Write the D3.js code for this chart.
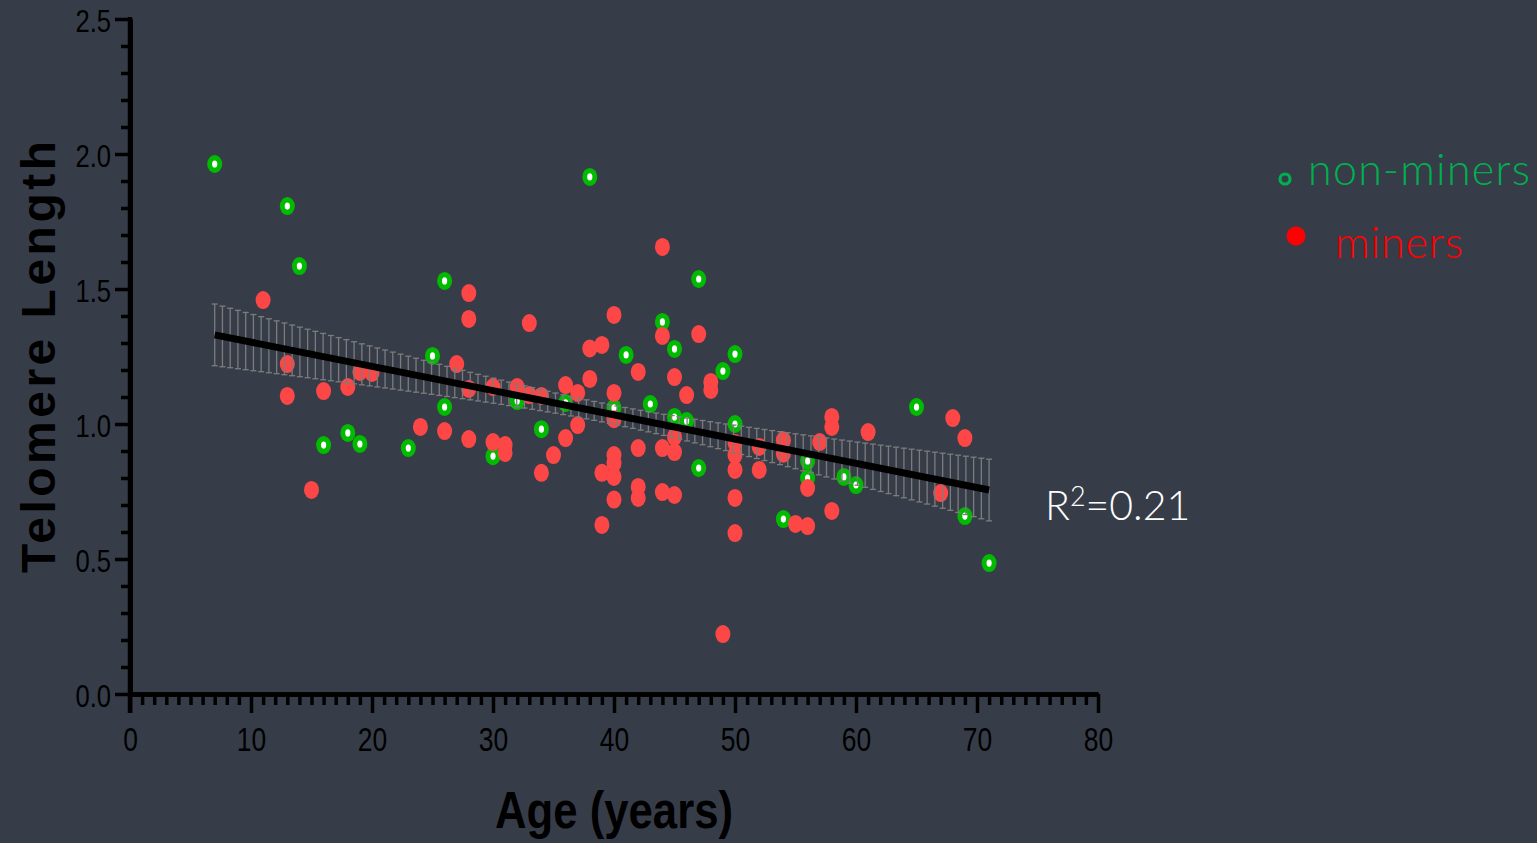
<!DOCTYPE html>
<html>
<head>
<meta charset="utf-8">
<script src="https://cdn.jsdelivr.net/npm/d3@7"></script>
<style>
  html, body { margin: 0; padding: 0; background: #373d48; }
  svg { display: block; }
  .narrow { font-family: "Liberation Sans Narrow", "Arial Narrow", "Liberation Sans", sans-serif; }
</style>
</head>
<body>
<div id="chart"></div>
<script>
/* values */
var nonMinerAge = [7, 13, 14, 16, 18, 19, 23, 25, 26, 26, 30, 32, 34, 36, 38, 40, 41, 43, 44, 45,
  45, 46, 47, 47, 49, 50, 50, 54, 56, 56, 59, 60, 65, 69, 71];
var nonMinerTL = [1.963, 1.807, 1.585, 0.922, 0.967, 0.926, 0.911, 1.252, 1.53, 1.063, 0.881, 1.085,
  0.981, 1.078, 1.915, 1.06, 1.256, 1.074, 1.378, 1.026, 1.278, 1.011, 1.537, 0.837, 1.196, 1.259,
  1.0, 0.648, 0.863, 0.8, 0.804, 0.774, 1.063, 0.659, 0.485];

var minerAge = [11, 13, 13, 15, 16, 18, 19, 20, 24, 26, 27, 28, 28, 28, 28, 30, 30, 31, 31, 32,
  33, 33, 34, 34, 35, 36, 36, 37, 37, 38, 38, 39, 39, 39, 40, 40, 40, 40, 40, 40,
  40, 42, 42, 42, 42, 44, 44, 44, 44, 45, 45, 45, 45, 46, 47, 48, 48, 49, 50, 50,
  50, 50, 50, 52, 52, 54, 54, 55, 56, 56, 57, 58, 58, 58, 61, 67, 68, 69];
var minerTL = [1.459, 1.222, 1.104, 0.756, 1.122, 1.137, 1.193, 1.189, 0.989, 0.974, 1.222, 1.485,
  1.389, 1.13, 0.944, 1.137, 0.933, 0.922, 0.893, 1.137, 1.374, 1.107, 1.104, 0.819, 0.885, 1.144,
  0.948, 1.115, 0.996, 1.28, 1.167, 1.293, 0.819, 0.626, 1.404, 1.115, 1.018, 0.885, 0.855, 0.804,
  0.72, 1.193, 0.911, 0.767, 0.726, 1.656, 1.326, 0.911, 0.748, 1.174, 0.952, 0.896, 0.737, 1.107,
  1.333, 1.156, 1.126, 0.222, 0.93, 0.885, 0.83, 0.726, 0.596, 0.915, 0.83, 0.94, 0.89, 0.63,
  0.763, 0.622, 0.933, 1.026, 0.989, 0.678, 0.97, 0.744, 1.022, 0.948];

/* linear fit and its 95% band */
var fitIntercept = 1.393;
var fitSlope = -0.00898;
var fitRange = [7, 71];
var bandCentre = 39;      // age where the band is narrowest
var bandMin = 0.035;      // half width there
var bandGrow = 0.0034;    // widening per year away from centre
var bandStep = 0.64;      // spacing of the drawn band bars
var r2Label = "0.21";

var xMajor = [0, 10, 20, 30, 40, 50, 60, 70, 80];
var yMajor = [0.0, 0.5, 1.0, 1.5, 2.0, 2.5];

var width = 1537, height = 843;

var svg = d3.select("#chart").append("svg")
  .attr("width", width).attr("height", height);

var x = d3.scaleLinear().domain([0, 80]).range([130, 1098]);
var y = d3.scaleLinear().domain([0, 2.5]).range([694, 19]);

/* squeeze text horizontally to mimic a narrow face */
function squeeze(sel, k) {
  sel.each(function () {
    var w = this.getComputedTextLength();
    d3.select(this).attr("lengthAdjust", "spacingAndGlyphs").attr("textLength", w * k);
  });
}

/* axes: minor and major ticks in their own groups */
var xMinor = d3.range(0, 81, 1).filter(v => xMajor.indexOf(v) < 0);
var yMinor = d3.range(0, 26, 1).map(v => v / 10).filter(v => Math.round(v * 10) % 5 !== 0);

var gxMinor = svg.append("g").attr("transform", "translate(0," + y(0) + ")")
  .call(d3.axisBottom(x).tickValues(xMinor).tickSize(11).tickSizeOuter(0).tickFormat(""));
var gxMajor = svg.append("g").attr("transform", "translate(0," + y(0) + ")")
  .call(d3.axisBottom(x).tickValues(xMajor).tickSize(19).tickSizeOuter(0).tickFormat(d3.format("d")).tickPadding(15));
var gyMinor = svg.append("g").attr("transform", "translate(" + x(0) + ",0)")
  .call(d3.axisLeft(y).tickValues(yMinor).tickSize(9).tickSizeOuter(0).tickFormat(""));
var gyMajor = svg.append("g").attr("transform", "translate(" + x(0) + ",0)")
  .call(d3.axisLeft(y).tickValues(yMajor).tickSize(15).tickSizeOuter(0).tickFormat(d3.format(".1f")).tickPadding(4));

[gxMinor, gxMajor, gyMinor, gyMajor].forEach(function (g) {
  g.selectAll("line").attr("stroke", "#000").attr("stroke-width", 3.5);
  g.selectAll("path.domain").attr("stroke", "#000").attr("stroke-width", 4.5);
});

gxMajor.selectAll("text").attr("class", "narrow").attr("fill", "#000")
  .style("font-size", "33px");
gyMajor.selectAll("text").attr("class", "narrow").attr("fill", "#000")
  .style("font-size", "32px").attr("dy", "0.38em");
squeeze(gxMajor.selectAll("text"), 0.8);
squeeze(gyMajor.selectAll("text"), 0.8);

/* y axis runs down to the x tick length, like the original */
svg.append("line")
  .attr("x1", x(0)).attr("x2", x(0))
  .attr("y1", y(2.5) - 2).attr("y2", y(0) + 19)
  .attr("stroke", "#000").attr("stroke-width", 4.5);

/* axis titles */
svg.append("text")
  .attr("transform", "translate(55," + 357 + ") rotate(-90)")
  .attr("text-anchor", "middle")
  .attr("textLength", 432)
  .style("font-family", "'Liberation Sans', Arial, sans-serif")
  .style("font-weight", "bold")
  .style("font-size", "48px")
  .attr("fill", "#000")
  .text("Telomere Length");

svg.append("text")
  .attr("x", 614).attr("y", 828)
  .attr("text-anchor", "middle")
  .attr("textLength", 238)
  .attr("lengthAdjust", "spacingAndGlyphs")
  .style("font-family", "'Liberation Sans', Arial, sans-serif")
  .style("font-weight", "bold")
  .style("font-size", "52px")
  .attr("fill", "#000")
  .text("Age (years)");

/* points */
var nonMiners = nonMinerAge.map((a, i) => ({ age: a, tl: nonMinerTL[i] }));
var miners = minerAge.map((a, i) => ({ age: a, tl: minerTL[i] }));

var pts = svg.append("g");
var gGreen = pts.selectAll("g.nm").data(nonMiners).enter().append("g").attr("class", "nm");
gGreen.append("ellipse")
  .attr("cx", d => x(d.age)).attr("cy", d => y(d.tl))
  .attr("rx", 7.5).attr("ry", 9)
  .attr("fill", "#00bb00");
gGreen.append("ellipse")
  .attr("cx", d => x(d.age)).attr("cy", d => y(d.tl))
  .attr("rx", 2.6).attr("ry", 3.6)
  .attr("fill", "#fff");

pts.selectAll("ellipse.m").data(miners).enter().append("ellipse")
  .attr("class", "m")
  .attr("cx", d => x(d.age)).attr("cy", d => y(d.tl))
  .attr("rx", 7.5).attr("ry", 9)
  .attr("fill", "#fd4747");

/* confidence band bars */
var fit = a => fitIntercept + fitSlope * a;
var half = a => Math.sqrt(bandMin * bandMin + Math.pow(bandGrow * (a - bandCentre), 2));
var bandAges = d3.range(fitRange[0], fitRange[1] + 0.01, bandStep);

var band = svg.append("g").attr("stroke", "#7c7c7c").attr("stroke-width", 1.3);
band.selectAll("line.v").data(bandAges).enter().append("line")
  .attr("x1", d => x(d)).attr("x2", d => x(d))
  .attr("y1", d => y(fit(d) + half(d))).attr("y2", d => y(fit(d) - half(d)));
band.selectAll("line.t").data(bandAges).enter().append("line")
  .attr("x1", d => x(d) - 3).attr("x2", d => x(d) + 3)
  .attr("y1", d => y(fit(d) + half(d))).attr("y2", d => y(fit(d) + half(d)));
band.selectAll("line.b").data(bandAges).enter().append("line")
  .attr("x1", d => x(d) - 3).attr("x2", d => x(d) + 3)
  .attr("y1", d => y(fit(d) - half(d))).attr("y2", d => y(fit(d) - half(d)));

/* fit line */
svg.append("path")
  .datum(fitRange)
  .attr("d", d3.line().x(d => x(d)).y(d => y(fit(d))))
  .attr("stroke", "#000").attr("stroke-width", 7).attr("fill", "none");

/* R squared */
var r2 = svg.append("text")
  .attr("x", 1045).attr("y", 520)
  .style("font-family", "Lato, 'Open Sans', sans-serif")
  .style("font-weight", 300)
  .style("font-size", "41px")
  .attr("fill", "#fff");
r2.append("tspan").text("R");
r2.append("tspan").attr("dy", -14).style("font-size", "27px").text("2");
r2.append("tspan").attr("dy", 14).text("=" + r2Label);

/* legend */
var leg = svg.append("g");
leg.append("circle").attr("cx", 1285).attr("cy", 179).attr("r", 5)
  .attr("fill", "none").attr("stroke", "#00b050").attr("stroke-width", 3.2);
leg.append("text").attr("x", 1308).attr("y", 185)
  .attr("textLength", 222)
  .style("font-family", "Lato, 'Open Sans', sans-serif").style("font-weight", 300)
  .style("font-size", "43px")
  .attr("fill", "#00b050").text("non-miners");
leg.append("circle").attr("cx", 1296).attr("cy", 236).attr("r", 9.5)
  .attr("fill", "#ff0000");
leg.append("text").attr("x", 1335).attr("y", 258)
  .attr("textLength", 128)
  .style("font-family", "Lato, 'Open Sans', sans-serif").style("font-weight", 300)
  .style("font-size", "43px")
  .attr("fill", "#ff0000").text("miners");
</script>
</body>
</html>
